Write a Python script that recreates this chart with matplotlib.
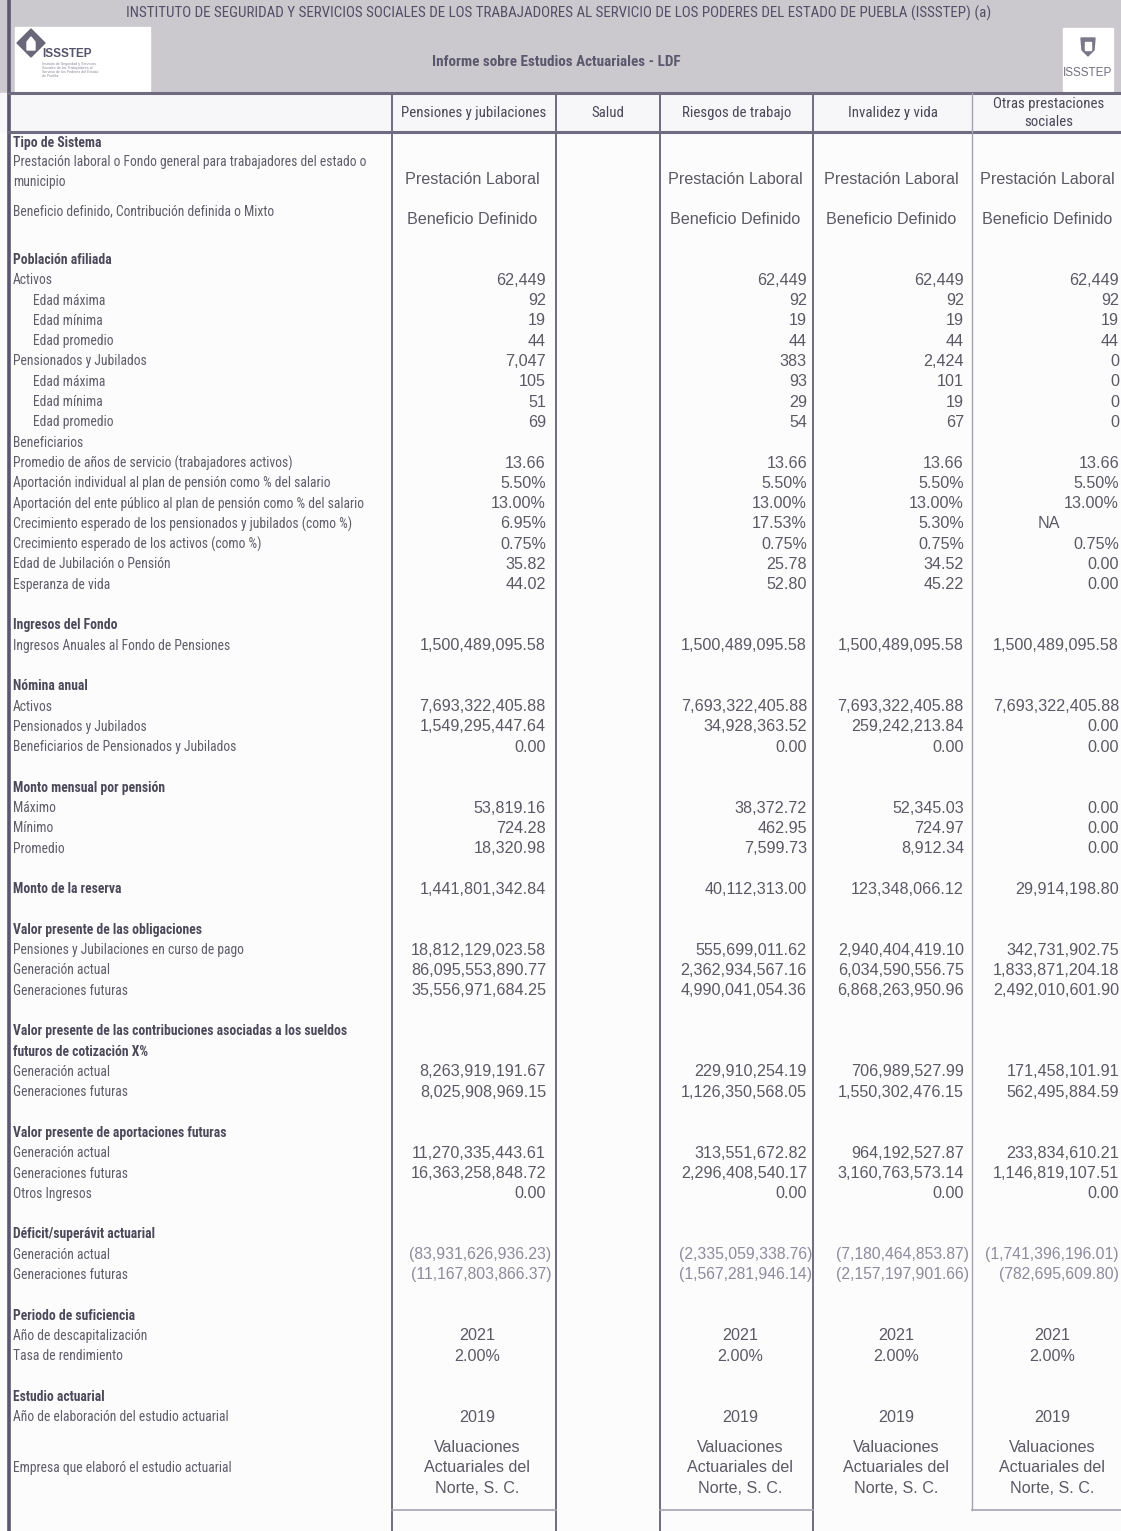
import matplotlib
matplotlib.use("Agg")
import matplotlib.pyplot as plt
from matplotlib import font_manager
from matplotlib.patches import Rectangle, Polygon

title = ("INSTITUTO DE SEGURIDAD Y SERVICIOS SOCIALES DE LOS TRABAJADORES AL SERVICIO "
         "DE LOS PODERES DEL ESTADO DE PUEBLA (ISSSTEP) (a)")
subtitle = "Informe sobre Estudios Actuariales - LDF"

column_names = ["Pensiones y jubilaciones", "Salud", "Riesgos de trabajo",
                "Invalidez y vida", "Otras prestaciones\nsociales"]

sistema = ["Prestación Laboral", None, "Prestación Laboral", "Prestación Laboral", "Prestación Laboral"]
beneficio = ["Beneficio Definido", None, "Beneficio Definido", "Beneficio Definido", "Beneficio Definido"]

row_labels = [
    "Población afiliada", "Activos", "Edad máxima", "Edad mínima", "Edad promedio",
    "Pensionados y Jubilados", "Edad máxima", "Edad mínima", "Edad promedio", "Beneficiarios",
    "Promedio de años de servicio (trabajadores activos)",
    "Aportación individual al plan de pensión como % del salario",
    "Aportación del ente público al plan de pensión como % del salario",
    "Crecimiento esperado de los pensionados y jubilados (como %)",
    "Crecimiento esperado de los activos (como %)",
    "Edad de Jubilación o Pensión", "Esperanza de vida", "",
    "Ingresos del Fondo", "Ingresos Anuales al Fondo de Pensiones", "",
    "Nómina anual", "Activos", "Pensionados y Jubilados", "Beneficiarios de Pensionados y Jubilados", "",
    "Monto mensual por pensión", "Máximo", "Mínimo", "Promedio", "",
    "Monto de la reserva", "",
    "Valor presente de las obligaciones", "Pensiones y Jubilaciones en curso de pago",
    "Generación actual", "Generaciones futuras", "",
    "Valor presente de las contribuciones asociadas a los sueldos", "futuros de cotización X%",
    "Generación actual", "Generaciones futuras", "",
    "Valor presente de aportaciones futuras", "Generación actual", "Generaciones futuras",
    "Otros Ingresos", "",
    "Déficit/superávit actuarial", "Generación actual", "Generaciones futuras", "",
    "Periodo de suficiencia", "Año de descapitalización", "Tasa de rendimiento", "",
    "Estudio actuarial", "Año de elaboración del estudio actuarial", "",
    "Empresa que elaboró el estudio actuarial",
]

section_titles = {"Población afiliada", "Ingresos del Fondo", "Nómina anual",
                  "Monto mensual por pensión", "Monto de la reserva",
                  "Valor presente de las obligaciones",
                  "Valor presente de las contribuciones asociadas a los sueldos",
                  "futuros de cotización X%", "Valor presente de aportaciones futuras",
                  "Déficit/superávit actuarial", "Periodo de suficiencia", "Estudio actuarial"}
indented = {"Edad máxima", "Edad mínima", "Edad promedio"}
centered_rows = {"Año de descapitalización", "Tasa de rendimiento",
                 "Año de elaboración del estudio actuarial",
                 "Empresa que elaboró el estudio actuarial"}

empresa = "Valuaciones\nActuariales del\nNorte, S. C."

pensiones = [
    None, "62,449", "92", "19", "44", "7,047", "105", "51", "69", None,
    "13.66", "5.50%", "13.00%", "6.95%", "0.75%", "35.82", "44.02", None,
    None, "1,500,489,095.58", None,
    None, "7,693,322,405.88", "1,549,295,447.64", "0.00", None,
    None, "53,819.16", "724.28", "18,320.98", None,
    "1,441,801,342.84", None,
    None, "18,812,129,023.58", "86,095,553,890.77", "35,556,971,684.25", None,
    None, None, "8,263,919,191.67", "8,025,908,969.15", None,
    None, "11,270,335,443.61", "16,363,258,848.72", "0.00", None,
    None, "(83,931,626,936.23)", "(11,167,803,866.37)", None,
    None, "2021", "2.00%", None,
    None, "2019", None, empresa,
]
salud = [None] * len(row_labels)
riesgos = [
    None, "62,449", "92", "19", "44", "383", "93", "29", "54", None,
    "13.66", "5.50%", "13.00%", "17.53%", "0.75%", "25.78", "52.80", None,
    None, "1,500,489,095.58", None,
    None, "7,693,322,405.88", "34,928,363.52", "0.00", None,
    None, "38,372.72", "462.95", "7,599.73", None,
    "40,112,313.00", None,
    None, "555,699,011.62", "2,362,934,567.16", "4,990,041,054.36", None,
    None, None, "229,910,254.19", "1,126,350,568.05", None,
    None, "313,551,672.82", "2,296,408,540.17", "0.00", None,
    None, "(2,335,059,338.76)", "(1,567,281,946.14)", None,
    None, "2021", "2.00%", None,
    None, "2019", None, empresa,
]
invalidez = [
    None, "62,449", "92", "19", "44", "2,424", "101", "19", "67", None,
    "13.66", "5.50%", "13.00%", "5.30%", "0.75%", "34.52", "45.22", None,
    None, "1,500,489,095.58", None,
    None, "7,693,322,405.88", "259,242,213.84", "0.00", None,
    None, "52,345.03", "724.97", "8,912.34", None,
    "123,348,066.12", None,
    None, "2,940,404,419.10", "6,034,590,556.75", "6,868,263,950.96", None,
    None, None, "706,989,527.99", "1,550,302,476.15", None,
    None, "964,192,527.87", "3,160,763,573.14", "0.00", None,
    None, "(7,180,464,853.87)", "(2,157,197,901.66)", None,
    None, "2021", "2.00%", None,
    None, "2019", None, empresa,
]
otras = [
    None, "62,449", "92", "19", "44", "0", "0", "0", "0", None,
    "13.66", "5.50%", "13.00%", "NA", "0.75%", "0.00", "0.00", None,
    None, "1,500,489,095.58", None,
    None, "7,693,322,405.88", "0.00", "0.00", None,
    None, "0.00", "0.00", "0.00", None,
    "29,914,198.80", None,
    None, "342,731,902.75", "1,833,871,204.18", "2,492,010,601.90", None,
    None, None, "171,458,101.91", "562,495,884.59", None,
    None, "233,834,610.21", "1,146,819,107.51", "0.00", None,
    None, "(1,741,396,196.01)", "(782,695,609.80)", None,
    None, "2021", "2.00%", None,
    None, "2019", None, empresa,
]
columns = [pensiones, salud, riesgos, invalidez, otras]
for col in columns:
    assert len(col) == len(row_labels)


def pick_narrow():
    # the scan uses an Arial Narrow style face; take a condensed one if installed
    for name, k in [("Roboto Condensed", 1.0), ("PT Sans Narrow", 1.02),
                    ("Archivo Narrow", 0.98)]:
        try:
            font_manager.findfont(name, fallback_to_default=False)
            return name, k
        except Exception:
            pass
    return "Liberation Sans", 0.86


def draw_table():
    narrow, k = pick_narrow()
    regular = "Liberation Sans"

    fig = plt.figure(figsize=(11.21, 15.31), dpi=100)
    ax = fig.add_axes([0, 0, 1, 1])
    ax.set_xlim(0, 1121)
    ax.set_ylim(1531, 0)
    ax.axis("off")
    fig.patch.set_facecolor("#fcfcfd")

    line_c = "#6f6c82"
    label_c = "#5e5d6a"
    value_c = "#5a5964"

    # header band
    ax.add_patch(Rectangle((0, 0), 1121, 93, color="#cbc8ce", zorder=0))
    ax.add_patch(Rectangle((0, 93), 1121, 39, color="#f7f6f9", zorder=0))
    ax.text(559, 13, title, ha="center", va="center", fontsize=10.8 * k,
            family=narrow, color="#524f66")
    ax.text(556, 62, subtitle, ha="center", va="center", fontsize=10.9 * k,
            family=narrow, weight="bold", color="#5a586c")

    # left logo
    ax.add_patch(Rectangle((15, 27), 135, 64, color="#ffffff", zorder=1))
    ax.add_patch(Polygon([(31, 29), (45, 43), (31, 57), (17, 43)], closed=True,
                         color="#6a6878", zorder=2))
    ax.add_patch(Polygon([(27, 50), (27, 42), (31, 37), (35, 42), (35, 50)], closed=True,
                         color="#ffffff", zorder=3))
    ax.text(42, 54, "ISSSTEP", ha="left", va="center", fontsize=8.5, weight="bold",
            family=regular, color="#55536a", zorder=3)
    ax.text(42, 70, "Instituto de Seguridad y Servicios\nSociales de los Trabajadores al\n"
            "Servicio de los Poderes del Estado\nde Puebla", ha="left", va="center",
            fontsize=2.6, family=regular, color="#8a889a", linespacing=1.1, zorder=3)

    # right logo
    ax.add_patch(Rectangle((1063, 28), 50, 63, color="#ffffff", zorder=1))
    ax.add_patch(Polygon([(1081, 38), (1095, 38), (1094, 50), (1088, 56), (1082, 50)],
                         closed=True, color="#7a7888", zorder=2))
    ax.add_patch(Rectangle((1085, 42), 6, 8, color="#ffffff", zorder=3))
    ax.text(1088, 73, "ISSSTEP", ha="center", va="center", fontsize=8.5,
            family=regular, color="#707080", zorder=3)

    # grid
    col_lines = [392, 556, 660, 813, 972]
    ax.plot([9, 9], [0, 1531], color="#5a576e", lw=2.6, zorder=4)
    ax.plot([9, 1121], [93, 93], color=line_c, lw=2.2, zorder=4)
    ax.plot([9, 1121], [132, 132], color=line_c, lw=2.2, zorder=4)
    for i, x in enumerate(col_lines):
        lw = 1.0 if i == 4 else 1.4
        c = "#a4a2b2" if i == 4 else line_c
        end = 1510 if i == 4 else 1531
        ax.plot([x, x], [93, end], color=c, lw=lw, zorder=4)
    for x0, x1 in [(392, 556), (660, 813), (972, 1121)]:
        ax.plot([x0, x1], [1510, 1510], color="#a4a2b2", lw=1.2, zorder=4)

    centers = [474, 608, 737, 893, 1049]
    rights = [546, None, 807, 964, 1119]

    for name, cx in zip(column_names, centers):
        ax.text(cx, 113, name, ha="center", va="center", fontsize=10.7 * k,
                family=narrow, color="#4a4858", linespacing=1.3)

    # Tipo de Sistema block
    lab_fs = 9.8 * k
    ax.text(13, 143, "Tipo de Sistema", ha="left", va="center", fontsize=lab_fs,
            family=narrow, weight="bold", color="#4c4a5a")
    ax.text(13, 172, "Prestación laboral o Fondo general para trabajadores del estado o\nmunicipio",
            ha="left", va="center", fontsize=lab_fs, family=narrow, color=label_c,
            linespacing=1.5)
    ax.text(13, 211, "Beneficio definido, Contribución definida o Mixto", ha="left",
            va="center", fontsize=lab_fs, family=narrow, color=label_c)
    for cx, s, b in zip(centers, sistema, beneficio):
        if s:
            ax.text(cx - 2, 180, s, ha="center", va="center", fontsize=11.6,
                    family=regular, color=value_c)
        if b:
            ax.text(cx - 2, 220, b, ha="center", va="center", fontsize=11.6,
                    family=regular, color=value_c)

    # body rows
    y0, pitch = 260, 20.3
    for i, lab in enumerate(row_labels):
        y = y0 + i * pitch
        if lab == "Empresa que elaboró el estudio actuarial":
            y += 10  # last block sits a little lower in the scan
        if lab:
            bold = lab in section_titles
            x = 33 if lab in indented else 13
            ax.text(x, y, lab, ha="left", va="center", fontsize=lab_fs, family=narrow,
                    weight="bold" if bold else "normal",
                    color="#4c4a5a" if bold else label_c)
        for j, col in enumerate(columns):
            v = col[i]
            if v is None:
                continue
            if lab in centered_rows or v == "NA":
                cx = centers[j] + 3 if v != "NA" else centers[j]
                ax.text(cx, y, v, ha="center", va="center", fontsize=11.6,
                        family=regular, color=value_c, linespacing=1.45)
            elif v.startswith("("):
                # negatives in parentheses, lighter in the scan; keep inside the page
                ax.text(min(rights[j] + 5, 1119), y, v, ha="right", va="center",
                        fontsize=11.3, family=regular, color="#8d8b9c")
            else:
                ax.text(rights[j], y, v, ha="right", va="center", fontsize=11.6,
                        family=regular, color=value_c)

    fig.savefig("out.png", dpi=100, facecolor=fig.get_facecolor())


if __name__ == "__main__":
    draw_table()
